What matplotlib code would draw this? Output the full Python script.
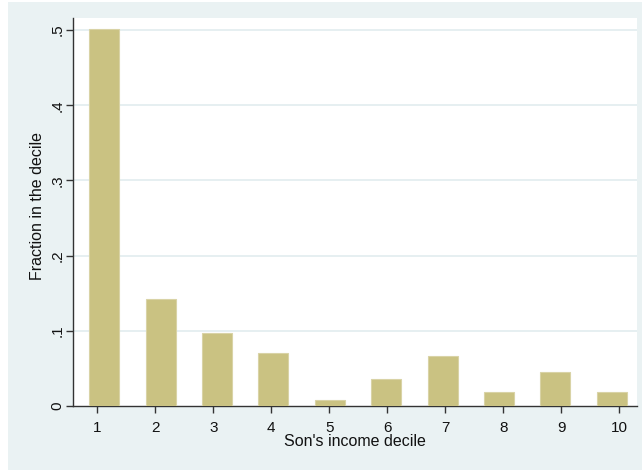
import matplotlib
matplotlib.use("Agg")
import matplotlib.pyplot as plt
from matplotlib.patches import Rectangle
import numpy as np

plt.rcParams['font.family'] = ['Liberation Sans', 'DejaVu Sans']

deciles = [1, 2, 3, 4, 5, 6, 7, 8, 9, 10]
fraction = [0.502, 0.142, 0.097, 0.070, 0.008, 0.036, 0.067, 0.018, 0.045, 0.019]
y_ticks = [0, 0.1, 0.2, 0.3, 0.4, 0.5]
y_tick_labels = ['0', '.1', '.2', '.3', '.4', '.5']

W, H = 642, 472
fig = plt.figure(figsize=(W / 100, H / 100), dpi=100, facecolor='white')

# outer graph region
fig.patches.append(Rectangle((8 / W, 2 / H), (W - 8) / W, (468) / H,
                             transform=fig.transFigure, facecolor='#EAF2F3',
                             edgecolor='none', zorder=-10))

ax_left, ax_right, ax_top, ax_bottom = 72.7, 637, 18, 406
ax_w, ax_h = ax_right - ax_left, ax_bottom - ax_top
ax = fig.add_axes([ax_left / W, (H - ax_bottom) / H, ax_w / W, ax_h / H])
ax.set_zorder(1)
ax.set_facecolor('white')

# bars are evenly spaced across the axis, slightly offset from the tick marks
n = len(deciles)
centers = np.linspace(1.12, 9.87, n)
ax.bar(centers, fraction, width=0.517, color='#CAC282', edgecolor='#D9D3A6',
       linewidth=0.8, zorder=3)

ax.set_xlim(0.576, 10.305)
ax.set_ylim(0, 0.516)
ax.set_xticks(deciles)
ax.set_xticklabels([str(d) for d in deciles], fontsize=11, color='#111111')
ax.set_yticks(y_ticks)
ax.set_yticklabels(y_tick_labels, fontsize=11, rotation=90, va='center',
                   color='#111111')

for y in y_ticks[1:]:
    ax.axhline(y, color='#E6EFF1', linewidth=1.4, zorder=1)

for s in ['top', 'right']:
    ax.spines[s].set_visible(False)
for s in ['left', 'bottom']:
    ax.spines[s].set_color('#333333')
    ax.spines[s].set_linewidth(1.0)

ax.tick_params(axis='x', length=5, width=1.0, color='#333333', pad=6)
ax.tick_params(axis='y', length=5, width=1.0, color='#333333', pad=1)

ax.set_xlabel("Son's income decile", fontsize=11.5, color='#111111')
ax.xaxis.label.set_va('center')
ax.xaxis.set_label_coords((355 - ax_left) / ax_w, (ax_bottom - 442) / ax_h)
ax.set_ylabel("Fraction in the decile", fontsize=11.5, color='#111111')
ax.yaxis.label.set_va('center')
ax.yaxis.set_label_coords((37 - ax_left) / ax_w, (ax_bottom - 206) / ax_h)

fig.savefig('out.png', dpi=100, facecolor='white')
